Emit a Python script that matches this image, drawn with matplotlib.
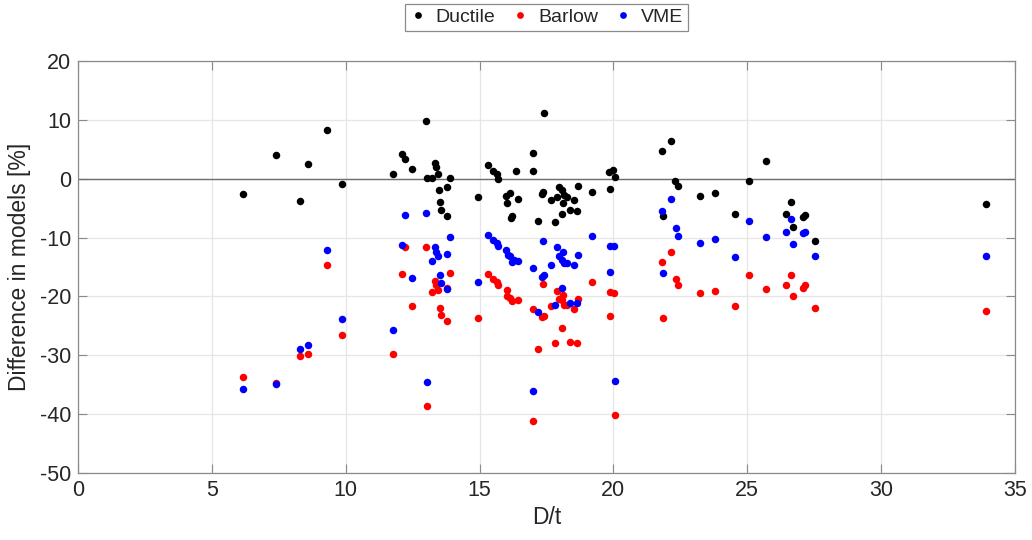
import matplotlib
matplotlib.use("Agg")
import matplotlib.pyplot as plt
from matplotlib.ticker import MultipleLocator

plt.rcParams['font.family'] = ['Liberation Sans', 'DejaVu Sans']
plt.rcParams['axes.unicode_minus'] = False

# ---------------- data ----------------
ductile_x = [6.15, 7.40, 8.31, 8.60, 9.31, 9.85, 11.77, 12.09, 12.23, 12.48,
             12.99, 13.02, 13.24, 13.35, 13.36, 13.44, 13.47, 13.51, 13.56, 13.77,
             13.80, 13.88, 14.94, 15.33, 15.51, 15.66, 15.70, 15.99, 16.04, 16.14,
             16.17, 16.20, 16.36, 16.42, 16.99, 17.01, 17.20, 17.32, 17.37, 17.42,
             17.66, 17.82, 17.88, 17.96, 18.07, 18.08, 18.10, 18.17, 18.25, 18.38,
             18.52, 18.65, 18.69, 19.21, 19.84, 19.87, 20.00, 20.07, 21.80, 21.84,
             22.15, 22.31, 22.42, 23.23, 23.81, 24.55, 25.05, 25.69, 26.46, 26.63,
             26.71, 27.07, 27.16, 27.54, 33.92]
ductile_y = [-2.64, 4.07, -3.78, 2.49, 8.25, -0.95, 0.8, 4.19, 3.4, 1.7,
             9.83, 0.12, 0.12, 2.6, 2.03, 0.85, -1.9, -3.9, -5.4, -1.35,
             -6.27, 0.07, -3.05, 2.37, 1.25, 0.8, -0.05, -2.9, -4.1, -2.4,
             -6.7, -6.3, 1.25, -3.4, 1.36, 4.41, -7.1, -2.6, -2.3, 11.19,
             -3.7, -7.3, -3.05, -1.46, -2.0, -6.0, -4.2, -2.76, -3.05, -5.3,
             -3.6, -5.5, -1.24, -2.25, 1.13, -1.7, 1.47, 0.34, 4.7, -6.37,
             6.34, -0.34, -1.19, -2.93, -2.42, -5.93, -0.39, 3.0, -6.0, -3.95,
             -8.24, -6.5, -6.2, -10.56, -4.34]

barlow_x = [6.15, 7.40, 8.31, 8.60, 9.31, 9.85, 11.77, 12.09, 12.23, 12.48,
            12.99, 13.02, 13.24, 13.35, 13.37, 13.46, 13.51, 13.56, 13.77, 13.80,
            13.88, 14.94, 15.33, 15.51, 15.66, 15.70, 16.01, 16.04, 16.14, 16.20,
            16.42, 16.99, 17.01, 17.20, 17.32, 17.41, 17.37, 17.66, 17.82, 17.88,
            17.96, 18.13, 18.08, 18.07, 18.17, 18.25, 18.38, 18.52, 18.65, 18.69,
            19.21, 19.87, 20.02, 19.87, 20.07, 21.80, 21.84, 22.15, 22.32, 22.42,
            23.23, 23.81, 24.55, 25.05, 25.69, 26.46, 26.63, 26.71, 27.07, 27.16,
            27.54, 33.92]
barlow_y = [-33.7, -34.7, -30.1, -29.8, -14.7, -26.6, -29.8, -16.2, -11.6, -21.7,
            -11.6, -38.7, -19.3, -17.4, -18.0, -18.9, -21.9, -23.2, -18.5, -24.2,
            -16.0, -23.6, -16.2, -17.0, -17.5, -18.0, -18.9, -19.9, -20.3, -20.7,
            -20.6, -22.1, -41.2, -29.0, -23.5, -23.3, -17.9, -21.7, -27.9, -19.0,
            -20.4, -19.7, -25.4, -20.6, -21.4, -21.5, -27.7, -22.1, -27.9, -20.4,
            -17.6, -19.2, -19.4, -23.3, -40.2, -14.2, -23.7, -12.4, -17.0, -18.1,
            -19.4, -19.0, -21.7, -16.3, -18.8, -18.1, -16.3, -20.0, -18.5, -18.1,
            -22.0, -22.5]

vme_x = [6.15, 7.40, 8.31, 8.60, 9.31, 9.85, 11.77, 12.09, 12.23, 12.48,
         12.99, 13.02, 13.24, 13.35, 13.37, 13.46, 13.51, 13.56, 13.77, 13.80,
         13.88, 14.94, 15.33, 15.51, 15.66, 15.70, 15.99, 16.08, 16.14, 16.20,
         16.29, 16.42, 16.99, 17.01, 17.20, 17.32, 17.41, 17.37, 17.66, 17.82,
         17.88, 17.96, 18.13, 18.07, 18.17, 18.25, 18.08, 18.38, 18.52, 18.65,
         18.69, 19.21, 19.87, 20.02, 19.87, 20.07, 21.80, 21.84, 22.15, 22.32,
         22.42, 23.23, 23.81, 24.55, 25.05, 25.69, 26.46, 26.63, 26.71, 27.07,
         27.16, 27.54, 33.92]
vme_y = [-35.8, -34.8, -29.0, -28.3, -12.03, -23.8, -25.76, -11.19, -6.2, -16.8,
         -5.8, -34.6, -13.9, -11.6, -12.4, -13.2, -16.4, -17.7, -12.76, -18.8,
         -9.94, -17.6, -9.54, -10.4, -10.85, -11.4, -12.1, -12.9, -13.2, -14.2,
         -13.8, -13.9, -15.25, -36.0, -22.7, -16.7, -16.4, -10.56, -14.6, -21.4,
         -11.6, -13.1, -12.5, -13.8, -14.3, -14.3, -18.6, -21.1, -14.7, -21.2,
         -12.9, -9.7, -11.35, -11.5, -15.8, -34.4, -5.5, -16.0, -3.4, -8.4,
         -9.66, -11.0, -10.3, -13.3, -7.1, -9.9, -9.0, -6.9, -11.1, -9.3,
         -9.0, -13.1, -13.15]

series_names = ["Ductile", "Barlow", "VME"]
series_colors = ["black", "red", "blue"]

# ---------------- figure ----------------
fig = plt.figure(figsize=(10.32, 5.40), dpi=100)
ax = fig.add_axes([78 / 1032, 1 - 473 / 540, (1015 - 78) / 1032, (473 - 61) / 540])

ax.axhline(0, color="#6e6e6e", lw=1.0, zorder=1)

for xs, ys, name, col in zip([ductile_x, barlow_x, vme_x],
                             [ductile_y, barlow_y, vme_y],
                             series_names, series_colors):
    ax.plot(xs, ys, linestyle="none", marker="o", markersize=5.4,
            color=col, markeredgewidth=0, label=name, zorder=3)

ax.set_xlim(0, 35)
ax.set_ylim(-50, 20)
ax.xaxis.set_major_locator(MultipleLocator(5))
ax.yaxis.set_major_locator(MultipleLocator(10))
ax.grid(True, color="#e6e6e6", lw=0.9, zorder=0)
ax.set_axisbelow(True)

for sp in ax.spines.values():
    sp.set_color("#8a8a8a")
    sp.set_linewidth(0.9)

ax.tick_params(direction="in", length=6.5, width=0.8, color="#8a8a8a",
               labelsize=15.5, labelcolor="#262626", top=True, right=True, pad=5)

ax.set_xlabel("D/t", fontsize=16.5, color="#262626", labelpad=4)
ax.set_ylabel("Difference in models [%]", fontsize=16.5, color="#262626", labelpad=6)

leg = fig.legend(loc="center", bbox_to_anchor=(546.5 / 1032, 1 - 17.5 / 540), ncol=3,
                 fontsize=14, frameon=True, fancybox=False, handlelength=0.8,
                 handletextpad=0.5, columnspacing=0.9, borderpad=0.25,
                 markerscale=0.9)
leg.get_frame().set_edgecolor("#6e6e6e")
leg.get_frame().set_linewidth(0.9)
for t in leg.get_texts():
    t.set_color("#262626")

fig.savefig("out.png", dpi=100)
